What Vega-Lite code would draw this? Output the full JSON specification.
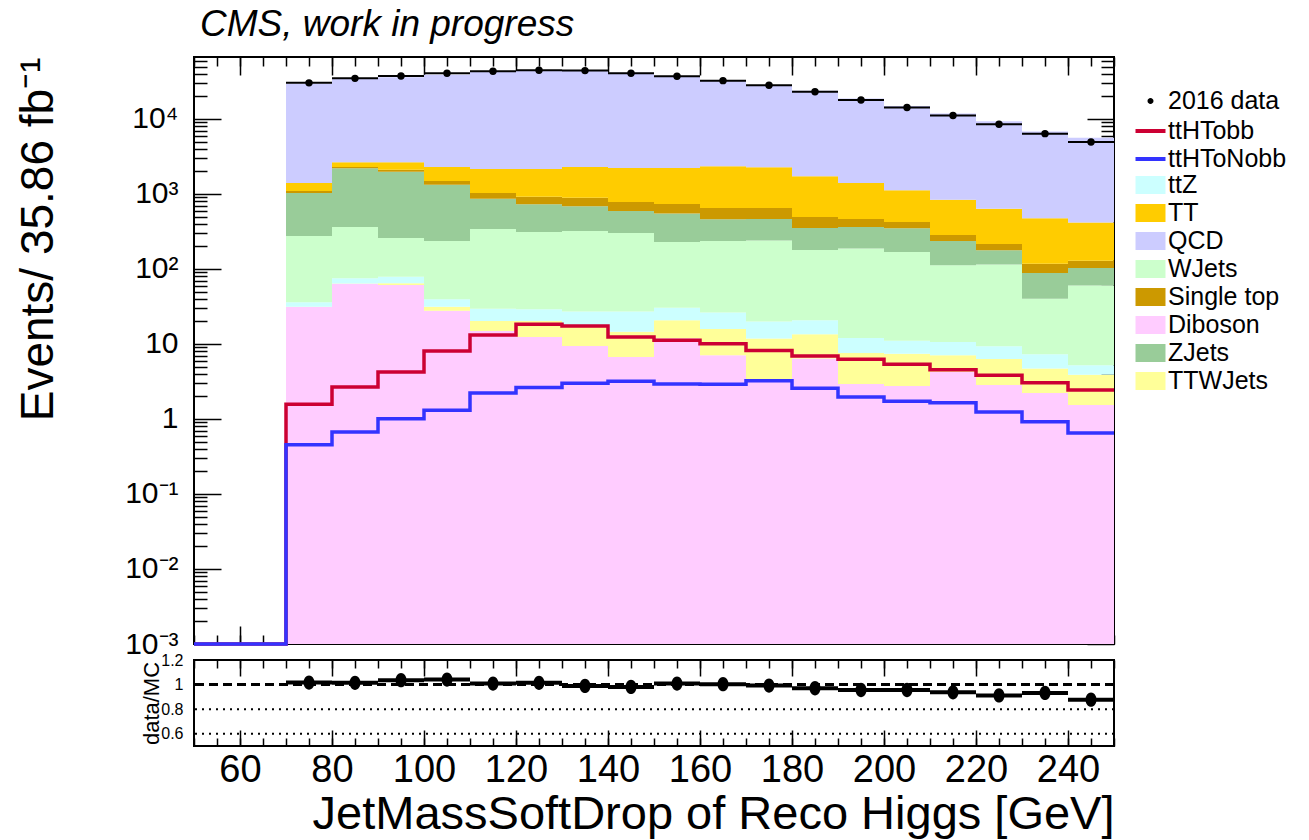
{
  "$schema": "https://vega.github.io/schema/vega-lite/v6.json",
  "padding": {"left": 14, "top": 5, "right": 5, "bottom": 2},
  "config": {
    "font": "Liberation Sans",
    "view": {"stroke": "black", "strokeWidth": 2},
    "axis": {"grid": false, "domain": false, "tickColor": "black", "tickWidth": 1.5, "labelColor": "black", "titleColor": "black", "titleFontWeight": "normal", "labelFlush": false, "labelFont": "Liberation Sans", "titleFont": "Liberation Sans", "minExtent": 0},
    "legend": {"labelFont": "Liberation Sans", "labelColor": "black"}
  },
  "datasets": {
    "bins": [
      {"lo": 70, "hi": 80, "c": 75, "Diboson": 31.1, "TTWJets": 0.3, "ttZ": 4.6, "WJets": 239, "ZJets": 756, "Single top": 65, "TT": 306, "QCD": 28318, "data": 30300, "ratio": 1.016},
      {"lo": 80, "hi": 90, "c": 85, "Diboson": 63.7, "TTWJets": 0.5, "ttZ": 10.8, "WJets": 288, "ZJets": 1837, "Single top": 91, "TT": 351, "QCD": 31678, "data": 34800, "ratio": 1.014},
      {"lo": 90, "hi": 100, "c": 95, "Diboson": 61.2, "TTWJets": 3.2, "ttZ": 14.6, "WJets": 180, "ZJets": 1723, "Single top": 127, "TT": 533, "QCD": 33458, "data": 37400, "ratio": 1.036},
      {"lo": 100, "hi": 110, "c": 105, "Diboson": 27.8, "TTWJets": 3.6, "ttZ": 8.0, "WJets": 196.6, "ZJets": 1095, "Single top": 159, "TT": 801, "QCD": 36709, "data": 40600, "ratio": 1.041},
      {"lo": 110, "hi": 120, "c": 115, "Diboson": 14.9, "TTWJets": 5.4, "ttZ": 9.3, "WJets": 311.4, "ZJets": 524, "Single top": 166, "TT": 1123, "QCD": 40706, "data": 43200, "ratio": 1.008},
      {"lo": 120, "hi": 130, "c": 125, "Diboson": 12.4, "TTWJets": 7.9, "ttZ": 8.7, "WJets": 282, "ZJets": 417, "Single top": 192, "TT": 1234, "QCD": 41826, "data": 44600, "ratio": 1.014},
      {"lo": 130, "hi": 140, "c": 135, "Diboson": 9.4, "TTWJets": 7.5, "ttZ": 10.1, "WJets": 294, "ZJets": 364, "Single top": 208, "TT": 1398, "QCD": 42299, "data": 44100, "ratio": 0.989},
      {"lo": 140, "hi": 150, "c": 145, "Diboson": 6.7, "TTWJets": 7.9, "ttZ": 12.4, "WJets": 275, "ZJets": 291, "Single top": 189, "TT": 1440, "QCD": 39168, "data": 40600, "ratio": 0.981},
      {"lo": 150, "hi": 160, "c": 155, "Diboson": 11.9, "TTWJets": 8.8, "ttZ": 9.8, "WJets": 198.5, "ZJets": 318, "Single top": 189, "TT": 1486, "QCD": 34588, "data": 37100, "ratio": 1.008},
      {"lo": 160, "hi": 170, "c": 165, "Diboson": 7.1, "TTWJets": 8.7, "ttZ": 10.4, "WJets": 209.8, "ZJets": 223, "Single top": 191, "TT": 1689, "QCD": 29961, "data": 32400, "ratio": 1.003},
      {"lo": 170, "hi": 180, "c": 175, "Diboson": 3.4, "TTWJets": 8.4, "ttZ": 8.1, "WJets": 219.1, "ZJets": 225, "Single top": 186, "TT": 1620, "QCD": 26060, "data": 28100, "ratio": 0.992},
      {"lo": 180, "hi": 190, "c": 185, "Diboson": 6.4, "TTWJets": 7.1, "ttZ": 7.2, "WJets": 158.3, "ZJets": 173, "Single top": 141, "TT": 1229, "QCD": 22088, "data": 23100, "ratio": 0.970},
      {"lo": 190, "hi": 200, "c": 195, "Diboson": 2.93, "TTWJets": 4.67, "ttZ": 4.4, "WJets": 175, "ZJets": 176, "Single top": 101, "TT": 938, "QCD": 17318, "data": 17900, "ratio": 0.956},
      {"lo": 200, "hi": 210, "c": 205, "Diboson": 2.75, "TTWJets": 4.65, "ttZ": 3.6, "WJets": 158, "ZJets": 179, "Single top": 76, "TT": 696, "QCD": 13730, "data": 14200, "ratio": 0.956},
      {"lo": 210, "hi": 220, "c": 215, "Diboson": 4.23, "TTWJets": 2.87, "ttZ": 3.5, "WJets": 101.4, "ZJets": 124, "Single top": 48, "TT": 556, "QCD": 11010, "data": 11100, "ratio": 0.937},
      {"lo": 220, "hi": 230, "c": 225, "Diboson": 2.84, "TTWJets": 3.46, "ttZ": 3.0, "WJets": 105.7, "ZJets": 62, "Single top": 38, "TT": 422, "QCD": 8673, "data": 8490, "ratio": 0.912},
      {"lo": 230, "hi": 240, "c": 235, "Diboson": 2.22, "TTWJets": 2.48, "ttZ": 2.6, "WJets": 32.9, "ZJets": 48.3, "Single top": 28.5, "TT": 357, "QCD": 6356, "data": 6370, "ratio": 0.932},
      {"lo": 240, "hi": 250, "c": 245, "Diboson": 1.54, "TTWJets": 2.36, "ttZ": 1.3, "WJets": 54.8, "ZJets": 43, "Single top": 26, "TT": 286, "QCD": 5215, "data": 4940, "ratio": 0.877}
    ],
    "sig": [
      {"lo": 50, "sample": "ttHTobb", "v": 0.001}, {"lo": 60, "sample": "ttHTobb", "v": 0.001},
      {"lo": 70, "sample": "ttHTobb", "v": 1.57}, {"lo": 80, "sample": "ttHTobb", "v": 2.67},
      {"lo": 90, "sample": "ttHTobb", "v": 4.23}, {"lo": 100, "sample": "ttHTobb", "v": 8.07},
      {"lo": 110, "sample": "ttHTobb", "v": 13.2}, {"lo": 120, "sample": "ttHTobb", "v": 18.3},
      {"lo": 130, "sample": "ttHTobb", "v": 17.4}, {"lo": 140, "sample": "ttHTobb", "v": 12.4},
      {"lo": 150, "sample": "ttHTobb", "v": 11.2}, {"lo": 160, "sample": "ttHTobb", "v": 10.1},
      {"lo": 170, "sample": "ttHTobb", "v": 8.2}, {"lo": 180, "sample": "ttHTobb", "v": 6.9},
      {"lo": 190, "sample": "ttHTobb", "v": 6.25}, {"lo": 200, "sample": "ttHTobb", "v": 5.36},
      {"lo": 210, "sample": "ttHTobb", "v": 4.55}, {"lo": 220, "sample": "ttHTobb", "v": 3.82},
      {"lo": 230, "sample": "ttHTobb", "v": 3.05}, {"lo": 240, "sample": "ttHTobb", "v": 2.44},
      {"lo": 250, "sample": "ttHTobb", "v": 2.44},
      {"lo": 50, "sample": "ttHToNobb", "v": 0.001}, {"lo": 60, "sample": "ttHToNobb", "v": 0.001},
      {"lo": 70, "sample": "ttHToNobb", "v": 0.455}, {"lo": 80, "sample": "ttHToNobb", "v": 0.671},
      {"lo": 90, "sample": "ttHToNobb", "v": 1.01}, {"lo": 100, "sample": "ttHToNobb", "v": 1.31},
      {"lo": 110, "sample": "ttHToNobb", "v": 2.22}, {"lo": 120, "sample": "ttHToNobb", "v": 2.62},
      {"lo": 130, "sample": "ttHToNobb", "v": 2.99}, {"lo": 140, "sample": "ttHToNobb", "v": 3.18},
      {"lo": 150, "sample": "ttHToNobb", "v": 2.93}, {"lo": 160, "sample": "ttHToNobb", "v": 2.9},
      {"lo": 170, "sample": "ttHToNobb", "v": 3.24}, {"lo": 180, "sample": "ttHToNobb", "v": 2.56},
      {"lo": 190, "sample": "ttHToNobb", "v": 1.96}, {"lo": 200, "sample": "ttHToNobb", "v": 1.72},
      {"lo": 210, "sample": "ttHToNobb", "v": 1.65}, {"lo": 220, "sample": "ttHToNobb", "v": 1.24},
      {"lo": 230, "sample": "ttHToNobb", "v": 0.92}, {"lo": 240, "sample": "ttHToNobb", "v": 0.65},
      {"lo": 250, "sample": "ttHToNobb", "v": 0.65}
    ],
    "ref": [{"r": 0.8, "kind": "dot"}, {"r": 0.6, "kind": "dot"}, {"r": 1.0, "kind": "dash"}]
  },
  "spacing": 16,
  "bounds": "flush",
  "resolve": {
    "scale": {"color": "independent", "stroke": "independent", "shape": "independent"},
    "legend": {"color": "independent", "stroke": "independent", "shape": "independent"}
  },
  "vconcat": [
    {
      "width": 920,
      "height": 587,
      "title": {"text": "CMS, work in progress", "anchor": "start", "frame": "group", "font": "Liberation Sans", "fontStyle": "italic", "fontWeight": "normal", "fontSize": 37, "color": "black", "offset": -17, "dx": 6, "baseline": "alphabetic"},
      "resolve": {"axis": {"x": "independent", "y": "independent"}},
      "layer": [
        {
          "data": {"name": "bins"},
          "transform": [
            {"fold": ["Diboson", "TTWJets", "ttZ", "WJets", "ZJets", "Single top", "TT", "QCD"], "as": ["process", "n"]},
            {"stack": "n", "groupby": ["lo"], "as": ["n0", "n1"]}
          ],
          "mark": {"type": "rect"},
          "encoding": {
            "x": {"field": "lo", "type": "quantitative", "scale": {"domain": [50, 250], "nice": false, "zero": false},
                  "axis": {"orient": "bottom", "values": [60, 80, 100, 120, 140, 160, 180, 200, 220, 240], "labels": false, "tickSize": -18, "title": null}},
            "x2": {"field": "hi"},
            "y": {"field": "n1", "type": "quantitative", "scale": {"type": "log", "domain": [0.001, 67000], "nice": false, "clamp": true},
                  "axis": {"orient": "left", "values": [0.001, 0.01, 0.1, 1, 10, 100, 1000, 10000], "ticks": false, "labelPadding": 16, "labelFontSize": 30,
                           "labelExpr": "datum.value > 5000 ? '10⁴' : datum.value > 500 ? '10³' : datum.value > 50 ? '10²' : datum.value > 5 ? '10' : datum.value > 0.5 ? '1' : datum.value > 0.05 ? '10⁻¹' : datum.value > 0.005 ? '10⁻²' : '10⁻³'",
                           "title": "Events/ 35.86 fb⁻¹", "titleFontSize": 46, "titleAnchor": "end", "titlePadding": 62}},
            "y2": {"field": "n0"},
            "color": {"field": "process", "type": "nominal",
                      "scale": {"domain": ["ttZ", "TT", "QCD", "WJets", "Single top", "Diboson", "ZJets", "TTWJets"],
                                "range": ["#ccffff", "#ffcc00", "#ccccff", "#ccffcc", "#cc9900", "#ffccff", "#99cc99", "#ffff99"]},
                      "legend": {"orient": "none", "legendX": 944, "legendY": 115.5, "title": null, "labelFontSize": 25, "symbolType": "M-1.5,-0.9H1.5V0.9H-1.5Z", "symbolSize": 400, "symbolStrokeWidth": 0, "rowPadding": 2, "labelOffset": 5, "padding": 0, "symbolOpacity": 1}}
          }
        },
        {
          "data": {"name": "sig"},
          "mark": {"type": "line", "interpolate": "step-after", "strokeWidth": 3.5},
          "encoding": {
            "x": {"field": "lo", "type": "quantitative",
                  "axis": {"orient": "bottom", "values": [50, 55, 60, 65, 70, 75, 80, 85, 90, 95, 100, 105, 110, 115, 120, 125, 130, 135, 140, 145, 150, 155, 160, 165, 170, 175, 180, 185, 190, 195, 200, 205, 210, 215, 220, 225, 230, 235, 240, 245, 250], "labels": false, "tickSize": -9, "title": null}},
            "y": {"field": "v", "type": "quantitative",
                  "axis": {"orient": "left", "values": [0.001, 0.01, 0.1, 1, 10, 100, 1000, 10000], "labels": false, "tickSize": -27, "title": null}},
            "stroke": {"field": "sample", "type": "nominal", "scale": {"domain": ["ttHTobb", "ttHToNobb"], "range": ["#cc0033", "#3333ff"]},
                       "legend": {"orient": "none", "legendX": 944, "legendY": 61.5, "title": null, "labelFontSize": 25, "symbolType": "M-1.5,0H1.5", "symbolSize": 400, "symbolStrokeWidth": 4, "rowPadding": 2, "labelOffset": 5, "padding": 0}}
          }
        },
        {
          "data": {"name": "bins"},
          "mark": {"type": "rule", "color": "black", "strokeWidth": 2},
          "encoding": {
            "x": {"field": "lo", "type": "quantitative",
                  "axis": {"orient": "top", "values": [60, 80, 100, 120, 140, 160, 180, 200, 220, 240], "labels": false, "tickSize": -18, "title": null}},
            "x2": {"field": "hi"},
            "y": {"field": "data", "type": "quantitative",
                  "axis": {"orient": "left", "values": [0.002, 0.003, 0.004, 0.005, 0.006, 0.007, 0.008, 0.009, 0.02, 0.03, 0.04, 0.05, 0.06, 0.07, 0.08, 0.09, 0.2, 0.3, 0.4, 0.5, 0.6, 0.7, 0.8, 0.9, 2, 3, 4, 5, 6, 7, 8, 9, 20, 30, 40, 50, 60, 70, 80, 90, 200, 300, 400, 500, 600, 700, 800, 900, 2000, 3000, 4000, 5000, 6000, 7000, 8000, 9000, 20000, 30000, 40000, 50000, 60000], "labels": false, "tickSize": -13, "title": null}}
          }
        },
        {
          "data": {"name": "bins"},
          "mark": {"type": "point", "filled": true, "color": "black", "size": 55, "opacity": 1},
          "encoding": {
            "x": {"field": "c", "type": "quantitative",
                  "axis": {"orient": "top", "values": [50, 55, 60, 65, 70, 75, 80, 85, 90, 95, 100, 105, 110, 115, 120, 125, 130, 135, 140, 145, 150, 155, 160, 165, 170, 175, 180, 185, 190, 195, 200, 205, 210, 215, 220, 225, 230, 235, 240, 245, 250], "labels": false, "tickSize": -9, "title": null}},
            "y": {"field": "data", "type": "quantitative",
                  "axis": {"orient": "right", "values": [0.001, 0.01, 0.1, 1, 10, 100, 1000, 10000], "labels": false, "tickSize": -27, "title": null}}
          }
        },
        {
          "data": {"name": "bins"},
          "mark": {"type": "point", "filled": true, "color": "black", "stroke": "black", "strokeWidth": 2.5, "opacity": 0},
          "encoding": {
            "x": {"field": "c", "type": "quantitative", "axis": null},
            "y": {"field": "data", "type": "quantitative",
                  "axis": {"orient": "right", "values": [0.002, 0.003, 0.004, 0.005, 0.006, 0.007, 0.008, 0.009, 0.02, 0.03, 0.04, 0.05, 0.06, 0.07, 0.08, 0.09, 0.2, 0.3, 0.4, 0.5, 0.6, 0.7, 0.8, 0.9, 2, 3, 4, 5, 6, 7, 8, 9, 20, 30, 40, 50, 60, 70, 80, 90, 200, 300, 400, 500, 600, 700, 800, 900, 2000, 3000, 4000, 5000, 6000, 7000, 8000, 9000, 20000, 30000, 40000, 50000, 60000], "labels": false, "tickSize": -13, "title": null}},
            "shape": {"datum": "2016 data", "type": "nominal", "scale": {"domain": ["2016 data"], "range": ["M-0.3,0A0.3,0.3 0 1,0 0.3,0A0.3,0.3 0 1,0 -0.3,0Z M0,-0.75V0.75"]},
                      "legend": {"orient": "none", "legendX": 944, "legendY": 31.5, "title": null, "labelFontSize": 25, "symbolSize": 400, "symbolFillColor": "black", "symbolStrokeColor": "black", "symbolStrokeWidth": 2.5, "symbolOpacity": 1, "labelOffset": 5, "padding": 0}}
          }
        }
      ]
    },
    {
      "width": 920,
      "height": 86,
      "resolve": {"axis": {"x": "independent", "y": "independent"}},
      "layer": [
        {
          "data": {"name": "ref"},
          "transform": [{"filter": "datum.kind == 'dot'"}],
          "mark": {"type": "rule", "color": "black", "strokeDash": [2, 5], "strokeWidth": 2},
          "encoding": {
            "y": {"field": "r", "type": "quantitative", "scale": {"domain": [0.5, 1.2], "nice": false, "zero": false},
                  "axis": {"orient": "left", "values": [0.6, 0.8, 1, 1.2], "ticks": false, "labelPadding": 11, "labelFontSize": 16,
                           "labelExpr": "datum.value > 0.99 && datum.value < 1.01 ? '1' : format(datum.value, '.1f')",
                           "title": "data/MC", "titleFontSize": 22, "titlePadding": -3}}
          }
        },
        {
          "data": {"name": "ref"},
          "transform": [{"filter": "datum.kind == 'dash'"}],
          "mark": {"type": "rule", "color": "black", "strokeDash": [9, 5], "strokeWidth": 3},
          "encoding": {"y": {"field": "r", "type": "quantitative", "axis": null}}
        },
        {
          "data": {"name": "bins"},
          "mark": {"type": "rule", "color": "black", "strokeWidth": 4},
          "encoding": {
            "x": {"field": "lo", "type": "quantitative", "scale": {"domain": [50, 250], "nice": false, "zero": false},
                  "axis": {"orient": "bottom", "values": [60, 80, 100, 120, 140, 160, 180, 200, 220, 240], "ticks": false, "labelPadding": 5, "labelFontSize": 38,
                           "title": "JetMassSoftDrop of Reco Higgs [GeV]", "titleFontSize": 47, "titleAnchor": "end", "titlePadding": 2}},
            "x2": {"field": "hi"},
            "y": {"field": "ratio", "type": "quantitative", "axis": null}
          }
        },
        {
          "data": {"name": "bins"},
          "mark": {"type": "point", "filled": true, "color": "black", "size": 121, "opacity": 1, "shape": "M0,-1.3A1,1.3 0 1,1 0,1.3A1,1.3 0 1,1 0,-1.3Z"},
          "encoding": {
            "x": {"field": "c", "type": "quantitative",
                  "axis": {"orient": "bottom", "values": [60, 80, 100, 120, 140, 160, 180, 200, 220, 240], "labels": false, "tickSize": -16, "title": null}},
            "y": {"field": "ratio", "type": "quantitative", "axis": null}
          }
        },
        {
          "data": {"name": "bins"},
          "mark": {"type": "point", "opacity": 0},
          "encoding": {
            "x": {"field": "c", "type": "quantitative",
                  "axis": {"orient": "bottom", "values": [50, 55, 60, 65, 70, 75, 80, 85, 90, 95, 100, 105, 110, 115, 120, 125, 130, 135, 140, 145, 150, 155, 160, 165, 170, 175, 180, 185, 190, 195, 200, 205, 210, 215, 220, 225, 230, 235, 240, 245, 250], "labels": false, "tickSize": -8, "title": null}},
            "y": {"field": "ratio", "type": "quantitative", "axis": null}
          }
        },
        {
          "data": {"name": "bins"},
          "mark": {"type": "point", "opacity": 0},
          "encoding": {
            "x": {"field": "c", "type": "quantitative",
                  "axis": {"orient": "top", "values": [60, 80, 100, 120, 140, 160, 180, 200, 220, 240], "labels": false, "tickSize": -16, "title": null}},
            "y": {"field": "ratio", "type": "quantitative", "axis": null}
          }
        },
        {
          "data": {"name": "bins"},
          "mark": {"type": "point", "opacity": 0},
          "encoding": {
            "x": {"field": "c", "type": "quantitative",
                  "axis": {"orient": "top", "values": [50, 55, 60, 65, 70, 75, 80, 85, 90, 95, 100, 105, 110, 115, 120, 125, 130, 135, 140, 145, 150, 155, 160, 165, 170, 175, 180, 185, 190, 195, 200, 205, 210, 215, 220, 225, 230, 235, 240, 245, 250], "labels": false, "tickSize": -8, "title": null}},
            "y": {"field": "ratio", "type": "quantitative", "axis": null}
          }
        }
      ]
    }
  ]
}
